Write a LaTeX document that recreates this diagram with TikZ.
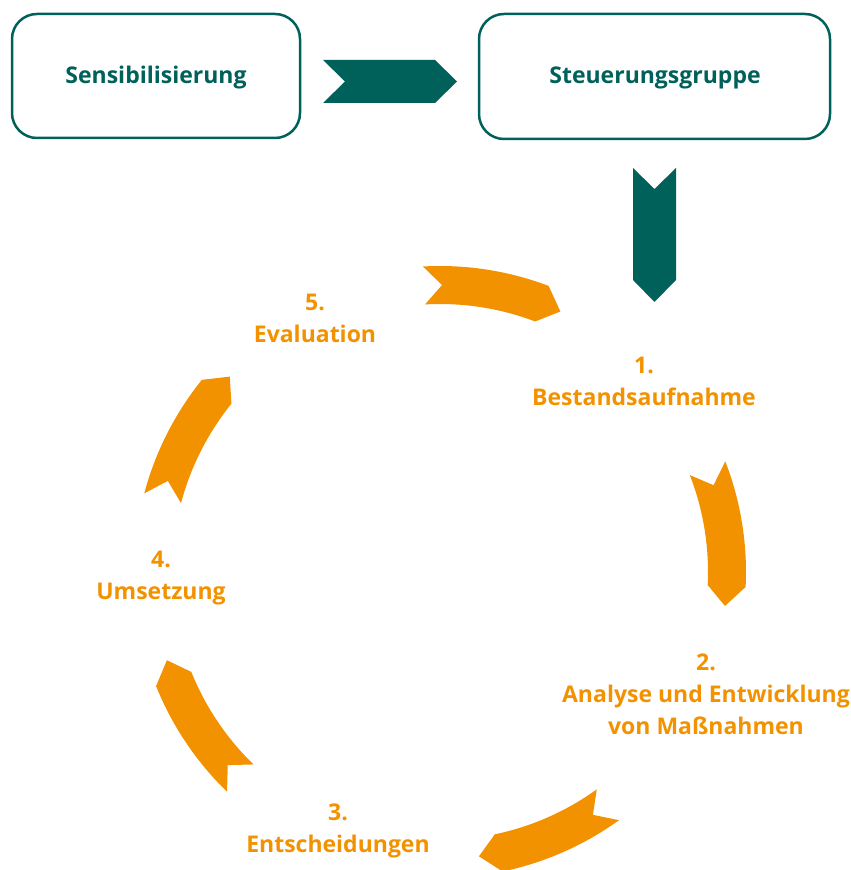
\documentclass[tikz,border=0pt]{standalone}
\usepackage{fontspec}
\setmainfont{Open Sans}
\definecolor{teal1}{HTML}{00615A}
\definecolor{orng}{HTML}{F39200}
\tikzset{
  box/.style={draw=teal1, line width=2.5pt, rounded corners=25pt},
  tlabel/.style={text=teal1, font=\bfseries\fontsize{23}{26}\selectfont},
  olabel/.style={text=orng, align=center, font=\bfseries\fontsize{23}{32}\selectfont},
  chev/.style={fill=teal1},
  carr/.style={fill=orng, shift={(440pt,298pt)}}
}
% curved arrow: #1 tail angle
\newcommand{\curvarrow}[1]{%
  \pgfmathsetmacro{\aS}{#1-24}\pgfmathsetmacro{\aT}{#1-28}\pgfmathsetmacro{\aN}{#1-3.6}%
  \fill[carr] (#1:306) arc[start angle=#1, end angle=\aS, radius=306] -- (\aT:287) -- (\aS:268)
    arc[start angle=\aS, end angle=#1, radius=268] -- (\aN:287) -- cycle;}
\begin{document}
\begin{tikzpicture}[x=1pt,y=1pt]
\useasboundingbox (0,0) rectangle (851,870);
\clip (0,0) rectangle (851,870);
\draw[box] (12,856) rectangle (300,732);
\draw[box] (479,856) rectangle (830,731);
\node[tlabel] (sens) at (156,792) {Sensibilisierung};
\node[tlabel] (steu) at (655,792) {Steuerungsgruppe};
\fill[chev] (323,810) -- (435,810) -- (457,788.5) -- (435,767) -- (323,767) -- (345,788.5) -- cycle;
\fill[chev] (633,702) -- (654.5,681) -- (676,702) -- (676,590) -- (654.5,568) -- (633,590) -- cycle;
\curvarrow{93.2}
\curvarrow{21.2}
\curvarrow{-54.2}
\curvarrow{-134.1}
\curvarrow{165.1}
\node[olabel] (s1) at (644,488.5) {1.\\Bestandsaufnahme};
\node[olabel] (s2) at (706,176) {2.\\Analyse und Entwicklung\\von Maßnahmen};
\node[olabel] (s3) at (338,39) {3.\\Entscheidungen};
\node[olabel] (s4) at (161,292) {4.\\Umsetzung};
\node[olabel] (s5) at (315,552) {5.\\Evaluation};
\end{tikzpicture}
\end{document}
